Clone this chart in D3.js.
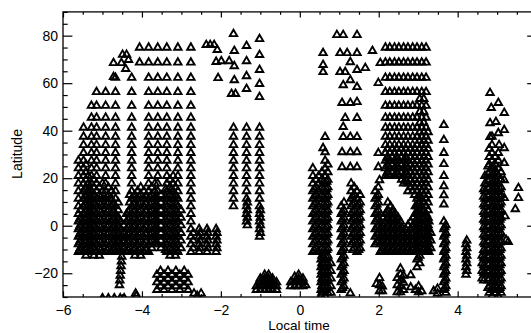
<!DOCTYPE html>
<html>
<head>
<meta charset="utf-8">
<script src="https://cdn.jsdelivr.net/npm/d3@7"></script>
<style>
body { margin: 0; background: #fff; }
text { font-family: "Liberation Sans", Arial, sans-serif; }
</style>
</head>
<body>
<div id="chart"></div>
<script>
// latitudes sampled along the passes (three interleaved sets)
var latG = [80.5, 75, 68.7, 62.3, 56.3, 50.5, 45.5, 41.3, 37.5, 34, 30.7, 27.4, 24.2, 21, 17.8, 14.6, 11.4, 8.2, 5, 1.8, -1.4, -4.6, -7.8, -11, -14.2, -17.4, -20.6, -23.8, -27, -29.5];
var latH = [78, 72, 65.5, 59.3, 53.4, 48, 43.4, 39.4, 35.8, 32.4, 29, 25.8, 22.6, 19.4, 16.2, 13, 9.8, 6.6, 3.4, 0.2, -3, -6.2, -9.4, -12.6, -15.8, -19, -22.2, -25.4, -28.2];
var latK = [42.1, 38.6, 35.1, 31.6, 28.2, 25, 21.8, 18.6, 15.4, 12.2, 9, 5.8, 2.6, -0.6, -3.8, -7, -10.2, -13.4, -16.6, -19.8, -23, -26.2, -28.8];

// passes: [local time, top latitude, bottom latitude, sample set]
var passesDawn = [
  [-5.61, 27.4, -11, 'G'], [-5.56, 6.6, -9.4, 'H'], [-5.48, 41.3, -11, 'G'], [-5.42, 25.8, -12.6, 'H'],
  [-5.36, 21, -11, 'G'], [-5.28, 50.5, -11, 'G'], [-5.22, 19.4, -12.6, 'H'], [-5.15, 56.3, -11, 'G'],
  [-5.08, 16.2, -12.6, 'H'], [-5.00, 17.8, -11, 'G'], [-4.92, 56.3, -11, 'G'], [-4.85, 16.2, -9.4, 'H'],
  [-4.77, 14.6, -11, 'G'], [-4.67, 62.3, -11, 'G'], [-4.60, 9.8, -9.4, 'H'], [-4.54, 1.8, -11, 'G'],
  [-4.46, 0.2, -9.4, 'H'], [-4.39, 5, -11, 'G'], [-4.31, 13, -9.4, 'H'], [-4.26, 62.3, -11, 'G'],
  [-4.18, 13, -12.6, 'H'], [-4.11, 14.6, -11, 'G'], [-4.06, 75, 68.7, 'G'], [-4.03, 16.2, -12.6, 'H'],
  [-3.95, 14.6, -11, 'G'], [-3.83, 75, -11, 'G'], [-3.75, 16.2, -9.4, 'H'], [-3.67, 17.8, -7.8, 'G'],
  [-3.60, 75, -7.8, 'G'], [-3.52, 13, -9.4, 'H'], [-3.37, 75, -11, 'G'], [-3.29, 19.4, -12.6, 'H'],
  [-3.21, 21, -11, 'G'], [-3.15, 16.2, -12.6, 'H'], [-3.09, 75, -11, 'G'], [-3.01, 6.6, -9.4, 'H'],
  [-2.76, 75, -11, 'G'], [-2.70, -3, -9.4, 'H'], [-2.55, -1.4, -11, 'G'], [-2.53, -3, -9.4, 'H'],
  [-2.35, -1.4, -11, 'G'], [-2.33, -3, -9.4, 'H'], [-2.12, -1.4, -11, 'G'], [-2.10, -3, -9.4, 'H'],
  [-5.58, 4.2, -10.2, 'K'], [-5.45, 15.4, -10.2, 'K'], [-5.32, 15.4, -10.2, 'K'], [-5.18, 12.2, -10.2, 'K'],
  [-5.04, 12.2, -10.2, 'K'], [-4.88, 12.2, -10.2, 'K'], [-4.74, 9, -10.2, 'K'], [-4.57, 2.6, -10.2, 'K'],
  [-4.35, 5.8, -10.2, 'K'], [-4.21, 12.2, -10.2, 'K'], [-4.07, 12.2, -10.2, 'K'], [-3.90, 12.2, -10.2, 'K'],
  [-3.79, 12.2, -7, 'K'], [-3.64, 12.2, -7, 'K'], [-3.40, 15.4, -10.2, 'K'], [-3.25, 15.4, -10.2, 'K'],
  [-3.12, 12.2, -10.2, 'K'],
  // southern block
  [-3.62, -20.6, -27, 'G'], [-3.53, -19, -25.4, 'H'], [-3.44, -20.6, -27, 'G'], [-3.34, -19, -25.4, 'H'],
  [-3.24, -20.6, -27, 'G'], [-3.14, -19, -25.4, 'H'], [-3.04, -20.6, -27, 'G'], [-2.93, -19, -25.4, 'H'],
  [-2.83, -20.6, -27, 'G']
];

var passesNight = [
  [-1.68, 41.3, 8.2, 'G'], [-1.35, 41.3, 1.8, 'G'], [-1.33, 9.8, 0.2, 'H'],
  [-1.02, 41.3, -4.6, 'G'], [-1.00, 6.6, -3, 'H'],
  [0.33, 24.2, -11, 'G'], [0.41, 19.4, -9.4, 'H'], [0.48, 21, -11, 'G'], [0.54, -14.2, -29.5, 'G'],
  [0.56, 22.6, -28.2, 'H'], [0.64, 27.4, -29.5, 'G'], [0.71, 25.8, -28.2, 'H'], [0.79, -15.8, -28.2, 'H'],
  [1.05, 8.2, -27, 'G'], [1.12, 9.8, -25.4, 'H'], [1.30, 17.8, -7.8, 'G'], [1.38, 16.2, -9.4, 'H'],
  [1.45, 14.6, -11, 'G'], [1.53, 13, -9.4, 'H'], [1.91, 14.6, -7.8, 'G'], [1.99, 16.2, -6.2, 'H'],
  [0.37, 15.4, -10.2, 'K'], [0.60, 18.6, -26.2, 'K'], [0.68, 18.6, -26.2, 'K'], [1.08, 5.8, -26.2, 'K'],
  [1.34, 12.2, -10.2, 'K'], [1.49, 9, -10.2, 'K'], [1.95, 12.2, -7, 'K']
];

var passesMorning = [
  [2.17, 75, 21, 'G'], [2.28, 75, 21, 'G'], [2.40, 75, 21, 'G'], [2.51, 75, 21, 'G'],
  [2.63, 75, 17.8, 'G'], [2.74, 75, 14.6, 'G'], [2.86, 75, 14.6, 'G'], [2.97, 75, -17.4, 'G'],
  [3.09, 75, 8.2, 'G'], [3.20, 75, -11, 'G'],
  [2.22, 32.4, 22.6, 'H'], [2.35, 32.4, 22.6, 'H'], [2.45, 32.4, 22.6, 'H'], [2.58, 32.4, 19.4, 'H'],
  [2.68, 32.4, 19.4, 'H'], [2.81, 32.4, 16.2, 'H'], [2.91, 32.4, 13, 'H'], [3.04, 53.4, -15.8, 'H'],
  [3.14, 53.4, -9.4, 'H'], [3.25, 39.4, -9.4, 'H'],
  [2.25, 28.2, 21.8, 'K'], [2.48, 28.2, 21.8, 'K'], [2.71, 28.2, 18.6, 'K'],
  [2.04, -1.4, -11, 'G'], [2.10, 3.4, -9.4, 'H'], [2.17, 5, -11, 'G'], [2.23, 9.8, -9.4, 'H'],
  [2.30, 8.2, -11, 'G'], [2.36, 6.6, -9.4, 'H'], [2.42, 5, -11, 'G'], [2.49, 3.4, -9.4, 'H'],
  [2.55, 1.8, -11, 'G'], [2.61, -3, -9.4, 'H'], [2.68, -1.4, -11, 'G'], [2.74, 0.2, -9.4, 'H'],
  [2.81, 1.8, -11, 'G'], [2.87, 3.4, -9.4, 'H'], [2.93, 8.2, -11, 'G'], [3.27, 1.8, -11, 'G'],
  [3.32, -3, -9.4, 'H'],
  [2.07, -0.6, -10.2, 'K'], [2.20, 5.8, -10.2, 'K'], [2.33, 5.8, -10.2, 'K'], [2.45, 2.6, -10.2, 'K'],
  [2.58, -0.6, -10.2, 'K'], [2.71, -3.8, -10.2, 'K'], [2.84, -0.6, -10.2, 'K'], [2.95, 5.8, -10.2, 'K'],
  [3.00, 12.2, -13.4, 'K'], [3.12, 5.8, -10.2, 'K'], [3.23, 2.6, -10.2, 'K'],
  [3.65, 1.8, -27, 'G'], [3.70, 0.2, -28.2, 'H'], [3.67, -0.6, -26.2, 'K'],
  [4.21, -7.8, -20.6, 'G'], [4.23, -6.2, -19, 'H'],
  [4.62, -12.6, -22.2, 'H'], [4.69, 21, -20.6, 'G'], [4.80, 32.4, -28.2, 'H'], [4.87, 37.5, -29.5, 'G'],
  [4.95, 29, -28.2, 'H'], [5.03, 30.7, -29.5, 'G'], [5.10, 22.6, -28.2, 'H'],
  [4.66, 15.4, -23, 'K'], [4.77, 25, -26.2, 'K'], [4.90, 25, -26.2, 'K'], [5.00, 21.8, -26.2, 'K'],
  [5.07, 15.4, -26.2, 'K']
];

// single observations [local time, latitude]
var extraDawn = [
  [-4.49, 72], [-4.39, 72], [-4.34, 69.8], [-4.52, 68.5], [-4.72, 68.5], [-4.41, 66], [-4.72, 62.6],
  [-4.45, -3], [-4.46, -5], [-4.48, -7], [-4.49, -9], [-4.50, -11], [-4.51, -13], [-4.52, -15],
  [-4.53, -17], [-4.54, -19], [-4.55, -21], [-4.56, -23], [-4.57, -25],
  [-5.0, -30.5], [-4.85, -30.5], [-4.7, -30.5], [-4.55, -30.5], [-4.45, -30.5],
  [-4.16, -28.5], [-4.14, -29.5], [-2.68, -28.5], [-2.5, -28.5], [-2.6, -29.5]
];

var extraNight = [
  [-2.37, 76.1], [-2.27, 76.1], [-2.17, 76.1], [-2.09, 74], [-2.12, 69], [-1.99, 69.3], [-1.79, 69.3],
  [-2.07, 62.2], [-1.68, 80.7], [-1.66, 73.6], [-1.66, 67.2], [-1.66, 61.3], [-1.73, 55.5], [-1.63, 55.5],
  [-1.35, 75.7], [-1.35, 69.3], [-1.35, 63], [-1.35, 57.6],
  [-1.02, 78.6], [-1.02, 71.9], [-1.02, 65.6], [-1.02, 59.7], [-1.02, 54.2],
  [-1.10, -25.4], [-1.10, -27], [-1.00, -22.2], [-1.00, -23.8], [-1.00, -25.4], [-1.00, -27],
  [-0.89, -20.6], [-0.89, -22.2], [-0.89, -23.8], [-0.89, -25.4], [-0.89, -27],
  [-0.79, -20.6], [-0.79, -22.2], [-0.79, -23.8], [-0.79, -25.4], [-0.79, -27],
  [-0.69, -22.2], [-0.69, -23.8], [-0.69, -25.4], [-0.69, -27], [-0.59, -23.8], [-0.59, -25.4], [-0.59, -27],
  [-0.23, -23.8], [-0.23, -25.4], [-0.13, -21.5], [-0.13, -23.8], [-0.13, -25.4],
  [-0.03, -20.6], [-0.03, -22.2], [-0.03, -23.8], [-0.03, -25.4], [0.08, -22.2], [0.08, -23.8], [0.08, -25.4], [0.15, -25],
  [0.59, 72.7], [0.59, 67.7], [0.59, 64.7], [0.64, 37.4], [0.59, 32.7], [0.64, 31],
  [0.94, 80.3], [1.10, 80.3], [1.45, 80.3], [1.02, 72.7], [1.20, 72.7], [1.45, 72.7], [1.28, 68.9],
  [1.02, 64.7], [1.15, 64.7], [1.45, 65.6], [1.66, 66.4], [1.84, 73.6], [1.28, 61.3], [1.10, 59.2],
  [1.45, 58.4], [1.07, 51.7], [1.28, 51.7], [1.45, 52.1], [1.15, 45.4], [1.45, 45.4], [1.10, 41.6],
  [1.10, 37.4], [1.28, 37.4], [1.45, 37.4], [1.07, 31], [1.28, 31], [1.45, 31],
  [1.07, 24.7], [1.28, 24.7], [1.45, 24.7], [1.99, 60.1], [2.04, 68.5],
  [1.99, 30.6], [1.99, 24.7], [2.02, 19.2], [1.28, -28.4]
];

var extraMorning = [
  [1.94, -24.5], [2.02, -22], [2.02, -25], [2.02, -27.5], [2.09, -25.5], [2.09, -27.5],
  [2.47, -22], [2.47, -25], [2.47, -28], [2.55, -18], [2.55, -20.5], [2.55, -23], [2.55, -25.5], [2.55, -28],
  [2.63, -21], [2.63, -24], [2.63, -27], [2.81, -20.8], [2.81, -25.9],
  [2.93, -27], [3.01, -25.5], [3.01, -28], [3.09, -27.5], [3.39, -27.5], [3.49, -26.5], [3.49, -28.5],
  [3.65, 42.4], [3.65, 36.1], [3.65, 30.7], [3.65, 26], [3.65, 21], [3.65, 16.7], [3.65, 12.9], [3.65, 9],
  [4.82, 55.9], [4.85, 49.6], [5.03, 51.7], [5.18, 47.5], [4.82, 43.2], [4.97, 43.7], [5.03, 39],
  [5.18, 40.3], [4.82, 37.4], [5.05, 34], [5.18, 32.7], [5.18, 26.4], [5.18, 19.2], [5.18, 11.7],
  [5.2, 4], [5.23, -6], [5.28, -6.8], [5.54, 15.9], [5.54, 11.7], [5.46, 7]
];

var xMajor = [-6, -4, -2, 0, 2, 4, 6];
var xLabels = [-6, -4, -2, 0, 2, 4];
var yMajor = [-20, 0, 20, 40, 60, 80];

var W = 531, H = 333;
var plotL = 63, plotR = 536.6, plotT = 11.9, plotB = 297;

var x = d3.scaleLinear().domain([-6, 6]).range([plotL, plotR]);
var y = d3.scaleLinear().domain([-30, 90]).range([plotB, plotT]);

var svg = d3.select("#chart").append("svg")
  .attr("width", W)
  .attr("height", H);

svg.append("clipPath").attr("id", "plotclip")
  .append("rect")
  .attr("x", plotL).attr("y", plotT)
  .attr("width", plotR - plotL).attr("height", plotB - plotT);

// build the points from the passes
var latSets = { G: latG, H: latH, K: latK };
var points = [];
passesDawn.concat(passesNight, passesMorning).forEach(function (p) {
  latSets[p[3]].forEach(function (l) {
    if (l <= p[1] + 0.01 && l >= p[2] - 0.01) points.push([p[0], l]);
  });
});
points = points.concat(extraDawn, extraNight, extraMorning);

var tri = d3.symbol().type(d3.symbolTriangle).size(24);

svg.append("g")
  .attr("clip-path", "url(#plotclip)")
  .selectAll("path")
  .data(points)
  .enter()
  .append("path")
  .attr("transform", function (d) { return "translate(" + x(d[0]) + "," + y(d[1]) + ")"; })
  .attr("d", tri)
  .attr("fill", "none")
  .attr("stroke", "#000")
  .attr("stroke-width", 1.9);

// axes: IDL style, ticks pointing in on all four sides
var xMinor = d3.range(-6, 6.01, 0.5).filter(function (v) { return v % 2 !== 0; });
var yMinor = d3.range(-30, 90.01, 5).filter(function (v) { return v % 20 !== 0; });

function styleAxis(g) {
  g.select(".domain").remove();
  g.selectAll(".tick line").attr("stroke", "#000").attr("stroke-width", 1.2);
  g.selectAll("text").attr("fill", "#000").attr("font-size", 14);
}

svg.append("g").attr("transform", "translate(0," + plotB + ")")
  .call(d3.axisBottom(x).tickValues(xLabels).tickSize(-5.7).tickPadding(8).tickFormat(d3.format("d")))
  .call(styleAxis);
svg.append("g").attr("transform", "translate(0," + plotB + ")")
  .call(d3.axisBottom(x).tickValues(xMinor).tickSize(-2.9).tickFormat(""))
  .call(styleAxis);
svg.append("g").attr("transform", "translate(0," + plotT + ")")
  .call(d3.axisTop(x).tickValues(xMajor).tickSize(-5.7).tickFormat(""))
  .call(styleAxis);
svg.append("g").attr("transform", "translate(0," + plotT + ")")
  .call(d3.axisTop(x).tickValues(xMinor).tickSize(-2.9).tickFormat(""))
  .call(styleAxis);

svg.append("g").attr("transform", "translate(" + plotL + ",0)")
  .call(d3.axisLeft(y).tickValues(yMajor).tickSize(-9.4).tickPadding(5).tickFormat(d3.format("d")))
  .call(styleAxis);
svg.append("g").attr("transform", "translate(" + plotL + ",0)")
  .call(d3.axisLeft(y).tickValues(yMinor).tickSize(-4.7).tickFormat(""))
  .call(styleAxis);
svg.append("g").attr("transform", "translate(" + plotR + ",0)")
  .call(d3.axisRight(y).tickValues(yMajor).tickSize(-9.4).tickFormat(""))
  .call(styleAxis);
svg.append("g").attr("transform", "translate(" + plotR + ",0)")
  .call(d3.axisRight(y).tickValues(yMinor).tickSize(-4.7).tickFormat(""))
  .call(styleAxis);

svg.append("rect")
  .attr("x", plotL).attr("y", plotT)
  .attr("width", plotR - plotL).attr("height", plotB - plotT)
  .attr("fill", "none")
  .attr("stroke", "#000")
  .attr("stroke-width", 1.3);

svg.append("text")
  .attr("x", 299).attr("y", 330)
  .attr("text-anchor", "middle")
  .attr("font-size", 13.5)
  .text("Local time");

svg.append("text")
  .attr("transform", "translate(22,154) rotate(-90)")
  .attr("text-anchor", "middle")
  .attr("font-size", 14)
  .text("Latitude");
</script>
</body>
</html>
